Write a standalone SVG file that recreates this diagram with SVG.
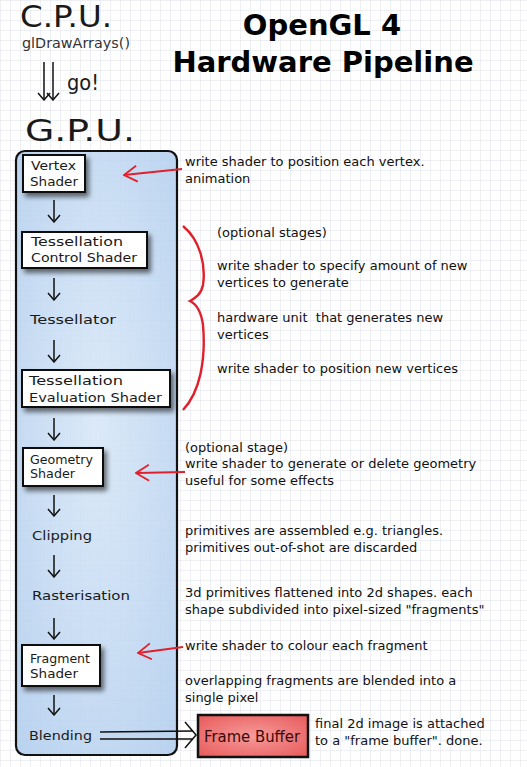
<svg xmlns="http://www.w3.org/2000/svg" width="527" height="767" viewBox="0 0 527 767">
<defs>
<pattern id="grid" width="10" height="10" patternUnits="userSpaceOnUse">
<path d="M10 0H0V10" fill="none" stroke="#dde2ea" stroke-width="1"/>
</pattern>
<radialGradient id="blue" cx="0.5" cy="0.45" r="0.7">
<stop offset="0" stop-color="#d6e6f7" stop-opacity="0.85"/>
<stop offset="1" stop-color="#b4cfee" stop-opacity="0.9"/>
</radialGradient>
<radialGradient id="red" cx="0.5" cy="0.5" r="0.7">
<stop offset="0" stop-color="#f69a9a"/>
<stop offset="1" stop-color="#e85a5a"/>
</radialGradient>
<filter id="sh" x="-20%" y="-20%" width="150%" height="170%">
<feDropShadow dx="3" dy="4" stdDeviation="2.5" flood-color="#000" flood-opacity="0.55"/>
</filter>
<marker id="ah" viewBox="0 0 12 14" refX="11" refY="7" markerWidth="12" markerHeight="14" markerUnits="userSpaceOnUse" orient="auto">
<path d="M4 1 L11 7 L4 13" fill="none" stroke="#111" stroke-width="1.5"/>
</marker>
<marker id="rh" viewBox="0 0 20 20" refX="19" refY="10" markerWidth="20" markerHeight="20" markerUnits="userSpaceOnUse" orient="auto">
<path d="M6 2 L19 10 L6 18" fill="none" stroke="#e0202a" stroke-width="1.8"/>
</marker>
</defs>
<style>
.hand{font-family:"DejaVu Sans","Liberation Sans",sans-serif;fill:#1a1a1a;font-size:12.5px;}
.big{font-size:30px;}
.note{font-family:"DejaVu Sans",sans-serif;font-size:13px;fill:#111;}
.title{font-family:"DejaVu Sans",sans-serif;font-weight:bold;font-size:29px;fill:#000;text-anchor:middle;}
.box{fill:#fff;stroke:#111;stroke-width:2;}
.flow{stroke:#111;stroke-width:1.5;fill:none;}
.red{stroke:#e0202a;stroke-width:1.8;fill:none;}
</style>
<rect width="527" height="767" fill="#fff"/>
<rect width="527" height="767" fill="url(#grid)"/>

<g id="title">
<text class="title" x="322" y="35">OpenGL 4</text>
<text class="title" x="323" y="72">Hardware Pipeline</text>
</g>

<g id="cpu">
<text class="hand big" x="20" y="27" textLength="92" lengthAdjust="spacingAndGlyphs">C.P.U.</text>
<text class="hand" x="22" y="48" style="font-size:14px;fill:#333" textLength="108" lengthAdjust="spacingAndGlyphs">glDrawArrays()</text>
<text class="hand" x="67" y="90" style="font-size:22px" textLength="32" lengthAdjust="spacingAndGlyphs">go!</text>
</g>

<g id="gpu">
<text class="hand big" x="25" y="141" textLength="110" lengthAdjust="spacingAndGlyphs">G.P.U.</text>
<rect x="16" y="151" width="161" height="604" rx="9" fill="url(#blue)" stroke="#111" stroke-width="2.2"/>
</g>

<g id="connectors">
<path class="flow" d="M44 62 V100" marker-end="url(#ah)"/>
<path class="flow" d="M53 62 V100" marker-end="url(#ah)"/>
<path class="flow" d="M54 200 V222" marker-end="url(#ah)"/>
<path class="flow" d="M54 278 V300" marker-end="url(#ah)"/>
<path class="flow" d="M54 340 V362" marker-end="url(#ah)"/>
<path class="flow" d="M54 418 V440" marker-end="url(#ah)"/>
<path class="flow" d="M54 495 V516" marker-end="url(#ah)"/>
<path class="flow" d="M54 555 V577" marker-end="url(#ah)"/>
<path class="flow" d="M54 618 V639" marker-end="url(#ah)"/>
<path class="flow" d="M54 695 V715" marker-end="url(#ah)"/>
<path class="flow" d="M100 732 L193 731 M100 739 L193 739"/>
<path class="flow" d="M185 722 L196 735 L185 748"/>
<path class="red" d="M182 169 L124 175" marker-end="url(#rh)"/>
<path class="red" d="M185 472 L136 473" marker-end="url(#rh)"/>
<path class="red" d="M183 647 L138 653" marker-end="url(#rh)"/>
<path class="red" style="stroke-width:2.4" d="M183 226 C200 240 206 265 203 285 C201 295 195 298 190 301 C196 304 201 310 203 325 C206 360 200 392 183 410"/>
</g>

<g id="vertex-shader">
<rect class="box" x="23" y="155" width="62" height="37" filter="url(#sh)"/>
<text class="hand" x="31" y="170" textLength="45" lengthAdjust="spacingAndGlyphs">Vertex</text>
<text class="hand" x="30" y="186" textLength="48" lengthAdjust="spacingAndGlyphs">Shader</text>
</g>

<g id="tess-control">
<rect class="box" x="22" y="232" width="125" height="36" filter="url(#sh)"/>
<text class="hand" x="31" y="246" textLength="92" lengthAdjust="spacingAndGlyphs">Tessellation</text>
<text class="hand" x="31" y="262" textLength="106" lengthAdjust="spacingAndGlyphs">Control Shader</text>
</g>

<g id="tessellator">
<text class="hand" x="30" y="324" textLength="86" lengthAdjust="spacingAndGlyphs">Tessellator</text>
</g>

<g id="tess-eval">
<rect class="box" x="22" y="370" width="148" height="37" filter="url(#sh)"/>
<text class="hand" x="29" y="385" textLength="94" lengthAdjust="spacingAndGlyphs">Tessellation</text>
<text class="hand" x="29" y="402" textLength="133" lengthAdjust="spacingAndGlyphs">Evaluation Shader</text>
</g>

<g id="geometry-shader">
<rect class="box" x="23" y="448" width="80" height="38" filter="url(#sh)"/>
<text class="hand" x="30" y="464" textLength="63" lengthAdjust="spacingAndGlyphs">Geometry</text>
<text class="hand" x="30" y="478" textLength="45" lengthAdjust="spacingAndGlyphs">Shader</text>
</g>

<g id="clipping">
<text class="hand" x="32" y="540" textLength="60" lengthAdjust="spacingAndGlyphs">Clipping</text>
</g>

<g id="rasterisation">
<text class="hand" x="32" y="600" textLength="98" lengthAdjust="spacingAndGlyphs">Rasterisation</text>
</g>

<g id="fragment-shader">
<rect class="box" x="22" y="645" width="78" height="41" filter="url(#sh)"/>
<text class="hand" x="30" y="663" textLength="60" lengthAdjust="spacingAndGlyphs">Fragment</text>
<text class="hand" x="30" y="678" textLength="48" lengthAdjust="spacingAndGlyphs">Shader</text>
</g>

<g id="blending">
<text class="hand" x="29" y="740" textLength="63" lengthAdjust="spacingAndGlyphs">Blending</text>
</g>

<g id="frame-buffer">
<rect x="198" y="715" width="110" height="42" fill="url(#red)" stroke="#111" stroke-width="2.5"/>
<text class="hand" x="204" y="742" style="font-size:16px;fill:#3a0a0a" textLength="96" lengthAdjust="spacingAndGlyphs">Frame Buffer</text>
</g>

<g id="notes">
<text class="note" x="185" y="166">write shader to position each vertex.</text>
<text class="note" x="185" y="183">animation</text>
<text class="note" x="217" y="237">(optional stages)</text>
<text class="note" x="217" y="270">write shader to specify amount of new</text>
<text class="note" x="217" y="287">vertices to generate</text>
<text class="note" x="217" y="322" xml:space="preserve">hardware unit  that generates new</text>
<text class="note" x="217" y="339">vertices</text>
<text class="note" x="217" y="373">write shader to position new vertices</text>
<text class="note" x="185" y="452">(optional stage)</text>
<text class="note" x="185" y="468">write shader to generate or delete geometry</text>
<text class="note" x="185" y="485">useful for some effects</text>
<text class="note" x="185" y="535">primitives are assembled e.g. triangles.</text>
<text class="note" x="185" y="552">primitives out-of-shot are discarded</text>
<text class="note" x="185" y="597">3d primitives flattened into 2d shapes. each</text>
<text class="note" x="185" y="614">shape subdivided into pixel-sized "fragments"</text>
<text class="note" x="185" y="650">write shader to colour each fragment</text>
<text class="note" x="185" y="685">overlapping fragments are blended into a</text>
<text class="note" x="185" y="702">single pixel</text>
<text class="note" x="315" y="728">final 2d image is attached</text>
<text class="note" x="315" y="745">to a "frame buffer". done.</text>
</g>
</svg>
